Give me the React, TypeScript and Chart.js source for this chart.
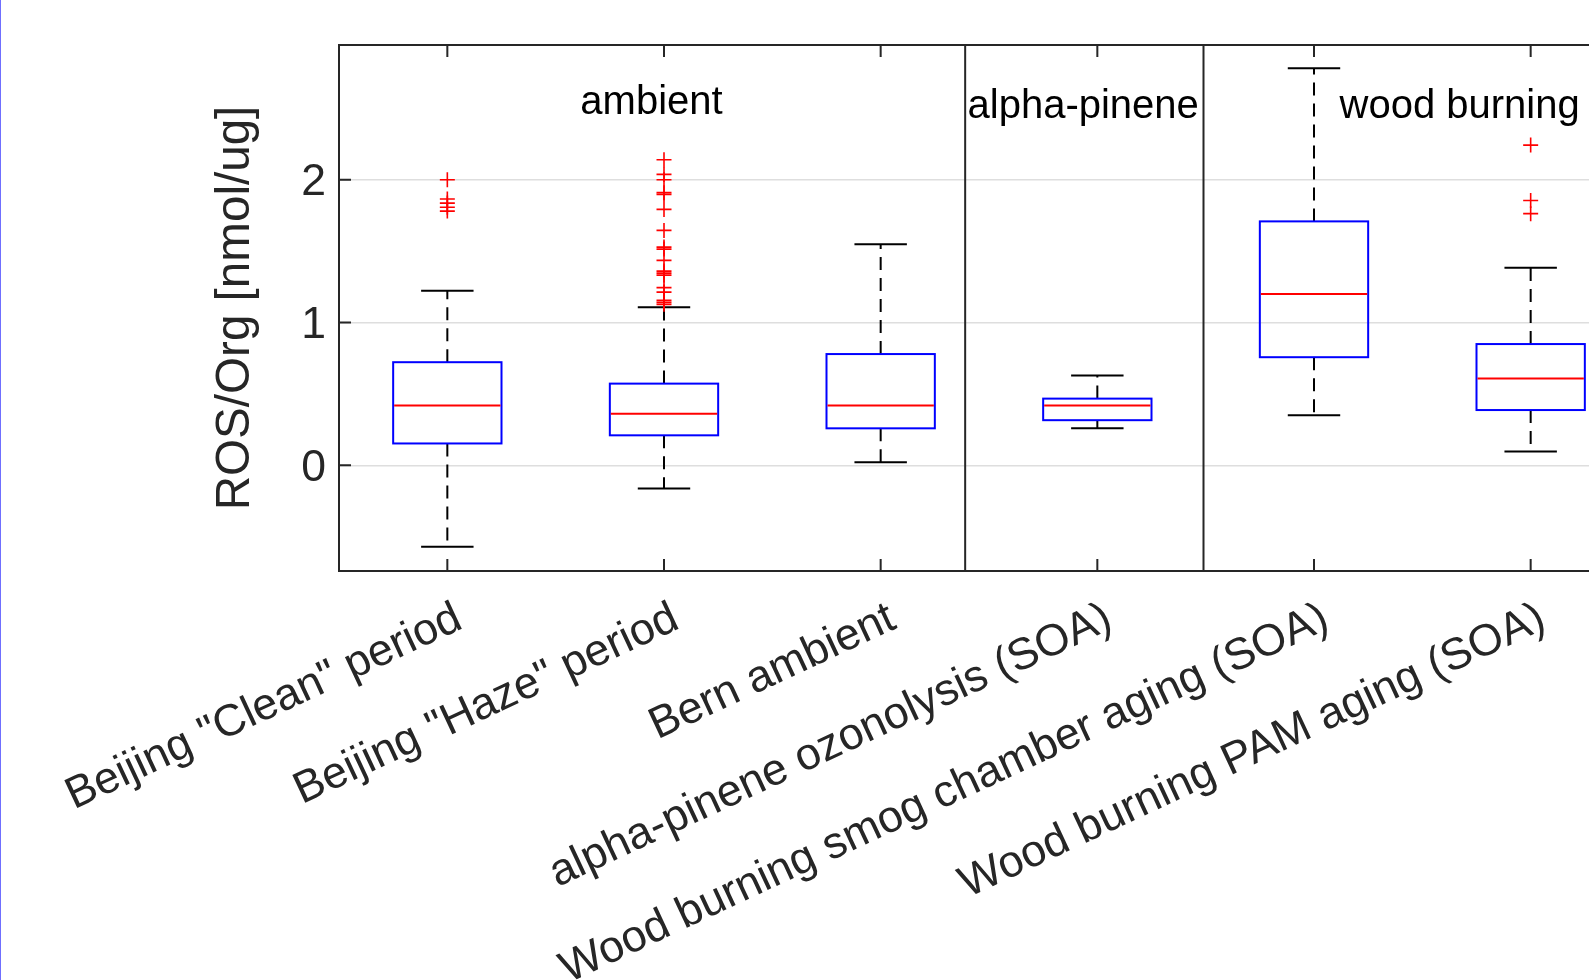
import React, { useEffect, useRef } from 'react';
import { Chart, registerables } from 'chart.js';

Chart.register(...registerables);

// ---- data ----
const categories = [
  'Beijing "Clean" period',
  'Beijing "Haze" period',
  'Bern ambient',
  'alpha-pinene ozonolysis (SOA)',
  'Wood burning smog chamber aging (SOA)',
  'Wood burning PAM aging (SOA)',
];
const lowerWhisker = [-0.57, -0.163, 0.022, 0.259, 0.351, 0.097];
const q1 = [0.153, 0.21, 0.259, 0.316, 0.757, 0.387];
const medians = [0.418, 0.361, 0.418, 0.418, 1.199, 0.608];
const q3 = [0.722, 0.572, 0.779, 0.467, 1.708, 0.849];
const upperWhisker = [1.222, 1.106, 1.547, 0.628, 2.781, 1.383];
const outliersClean = [2.0, 1.865, 1.836, 1.807, 1.78];
const outliersHaze = [
  2.14, 2.037, 2.0, 1.909, 1.897, 1.792, 1.645, 1.528, 1.514, 1.435, 1.36,
  1.346, 1.332, 1.244, 1.213, 1.155, 1.141, 1.127,
];
const outliersBern: number[] = [];
const outliersPinene: number[] = [];
const outliersSmog: number[] = [];
const outliersPam = [2.242, 1.854, 1.762];
const outliers = [outliersClean, outliersHaze, outliersBern, outliersPinene, outliersSmog, outliersPam];
const yTicks = [0, 1, 2];
const groupDividers = [2.39, 3.49];
const groupLabels = ['ambient', 'alpha-pinene', 'wood burning'];
const groupLabelX = [0.614, 2.401, 4.118];
const groupLabelY = [2.461, 2.433, 2.433];
const yRange = [-0.74, 2.943];
const xRange = [-0.5, 5.5];

// ---- styles ----
const FONT = '"Liberation Sans", Arial, Helvetica, sans-serif';
const AXIS_COLOR = '#262626';
const BOX_HALF = 0.25;
const CAP_HALF = 0.121;

const boxPlugin = {
  id: 'boxplotDraw',
  beforeDatasetsDraw(chart: any) {
    const { ctx } = chart;
    const x = chart.scales.x;
    const y = chart.scales.y;
    ctx.save();
    categories.forEach((_, i) => {
      const cx = x.getPixelForValue(i);
      const bl = x.getPixelForValue(i - BOX_HALF);
      const br = x.getPixelForValue(i + BOX_HALF);
      const cl = x.getPixelForValue(i - CAP_HALF);
      const cr = x.getPixelForValue(i + CAP_HALF);
      const yLo = y.getPixelForValue(lowerWhisker[i]);
      const yQ1 = y.getPixelForValue(q1[i]);
      const yMed = y.getPixelForValue(medians[i]);
      const yQ3 = y.getPixelForValue(q3[i]);
      const yUp = y.getPixelForValue(upperWhisker[i]);

      ctx.lineWidth = 2;
      ctx.strokeStyle = '#000000';
      ctx.setLineDash([13, 8]);
      ctx.beginPath();
      ctx.moveTo(cx, yQ3);
      ctx.lineTo(cx, yUp);
      ctx.stroke();
      ctx.beginPath();
      ctx.moveTo(cx, yQ1);
      ctx.lineTo(cx, yLo);
      ctx.stroke();
      ctx.setLineDash([]);

      ctx.beginPath();
      ctx.moveTo(cl, yUp);
      ctx.lineTo(cr, yUp);
      ctx.moveTo(cl, yLo);
      ctx.lineTo(cr, yLo);
      ctx.stroke();

      ctx.strokeStyle = '#0000ff';
      ctx.strokeRect(bl, yQ3, br - bl, yQ1 - yQ3);

      ctx.strokeStyle = '#ff0000';
      ctx.beginPath();
      ctx.moveTo(bl + 1, yMed);
      ctx.lineTo(br - 1, yMed);
      ctx.stroke();
    });
    ctx.restore();
  },
  afterDraw(chart: any) {
    const { ctx, chartArea } = chart;
    const x = chart.scales.x;
    const y = chart.scales.y;
    const { left, right, top, bottom } = chartArea;
    ctx.save();
    // group dividers
    ctx.strokeStyle = AXIS_COLOR;
    ctx.lineWidth = 2;
    groupDividers.forEach((d) => {
      const px = x.getPixelForValue(d);
      ctx.beginPath();
      ctx.moveTo(px, top);
      ctx.lineTo(px, bottom);
      ctx.stroke();
    });
    // inward tick marks
    const tl = 12;
    ctx.beginPath();
    x.ticks.forEach((t: any) => {
      const px = x.getPixelForValue(t.value);
      ctx.moveTo(px, bottom);
      ctx.lineTo(px, bottom - tl);
      ctx.moveTo(px, top);
      ctx.lineTo(px, top + tl);
    });
    y.ticks.forEach((t: any) => {
      const py = y.getPixelForValue(t.value);
      ctx.moveTo(left, py);
      ctx.lineTo(left + tl, py);
      ctx.moveTo(right, py);
      ctx.lineTo(right - tl, py);
    });
    ctx.stroke();
    // axes box
    ctx.strokeRect(left, top, right - left, bottom - top);
    // group labels
    ctx.fillStyle = '#000000';
    ctx.font = `40px ${FONT}`;
    ctx.textAlign = 'left';
    ctx.textBaseline = 'alphabetic';
    groupLabels.forEach((lab, i) => {
      ctx.fillText(lab, x.getPixelForValue(groupLabelX[i]), y.getPixelForValue(groupLabelY[i]));
    });
    ctx.restore();
  },
};

export default function App() {
  const canvasRef = useRef<HTMLCanvasElement | null>(null);

  useEffect(() => {
    const canvas = canvasRef.current;
    if (!canvas) return;
    const points: { x: number; y: number }[] = [];
    outliers.forEach((arr, i) => arr.forEach((v) => points.push({ x: i, y: v })));

    const chart = new Chart(canvas, {
      type: 'scatter',
      data: {
        datasets: [
          {
            data: points,
            pointStyle: 'cross',
            pointRadius: 7.5,
            pointHoverRadius: 7.5,
            pointBorderColor: '#ff0000',
            pointBackgroundColor: '#ff0000',
            pointBorderWidth: 1.6,
            showLine: false,
          } as any,
        ],
      },
      options: {
        animation: false,
        responsive: false,
        devicePixelRatio: 1,
        events: [],
        layout: { padding: { left: 0, top: 45, right: 61, bottom: 0 } },
        plugins: { legend: { display: false }, tooltip: { enabled: false } },
        scales: {
          x: {
            type: 'linear',
            min: xRange[0],
            max: xRange[1],
            afterBuildTicks: (s: any) => {
              s.ticks = categories.map((_, i) => ({ value: i }));
            },
            afterFit: (s: any) => {
              s.height = 409;
            },
            grid: { display: false, drawTicks: false },
            border: { display: false },
            ticks: {
              autoSkip: false,
              minRotation: 25,
              maxRotation: 25,
              padding: 21,
              labelOffset: 12,
              color: AXIS_COLOR,
              font: { family: FONT, size: 44.6 },
              callback: (_v: any, idx: number) => categories[idx],
            },
          },
          y: {
            type: 'linear',
            min: yRange[0],
            max: yRange[1],
            afterBuildTicks: (s: any) => {
              s.ticks = yTicks.map((v) => ({ value: v }));
            },
            afterFit: (s: any) => {
              s.width = 339;
            },
            grid: { color: '#dedede', lineWidth: 1.5, drawTicks: false },
            border: { display: false },
            ticks: {
              padding: 13,
              labelOffset: 3,
              color: AXIS_COLOR,
              font: { family: FONT, size: 44.5 },
              callback: (v: any) => String(v),
            },
            title: {
              display: true,
              text: 'ROS/Org [nmol/ug]',
              color: AXIS_COLOR,
              font: { family: FONT, size: 47.6 },
              padding: { top: 207, bottom: 0 },
            },
          },
        },
      },
      plugins: [boxPlugin],
    });
    return () => chart.destroy();
  }, []);

  return (
    <div
      style={{
        position: 'fixed',
        left: 0,
        top: 0,
        width: 1589,
        height: 980,
        overflow: 'hidden',
        background: '#ffffff',
      }}
    >
      <canvas ref={canvasRef} width={1700} height={980} style={{ display: 'block', width: 1700, height: 980 }} />
      <div style={{ position: 'absolute', left: 0, top: 0, width: 1, height: 980, background: '#6f6fff' }} />
    </div>
  );
}
